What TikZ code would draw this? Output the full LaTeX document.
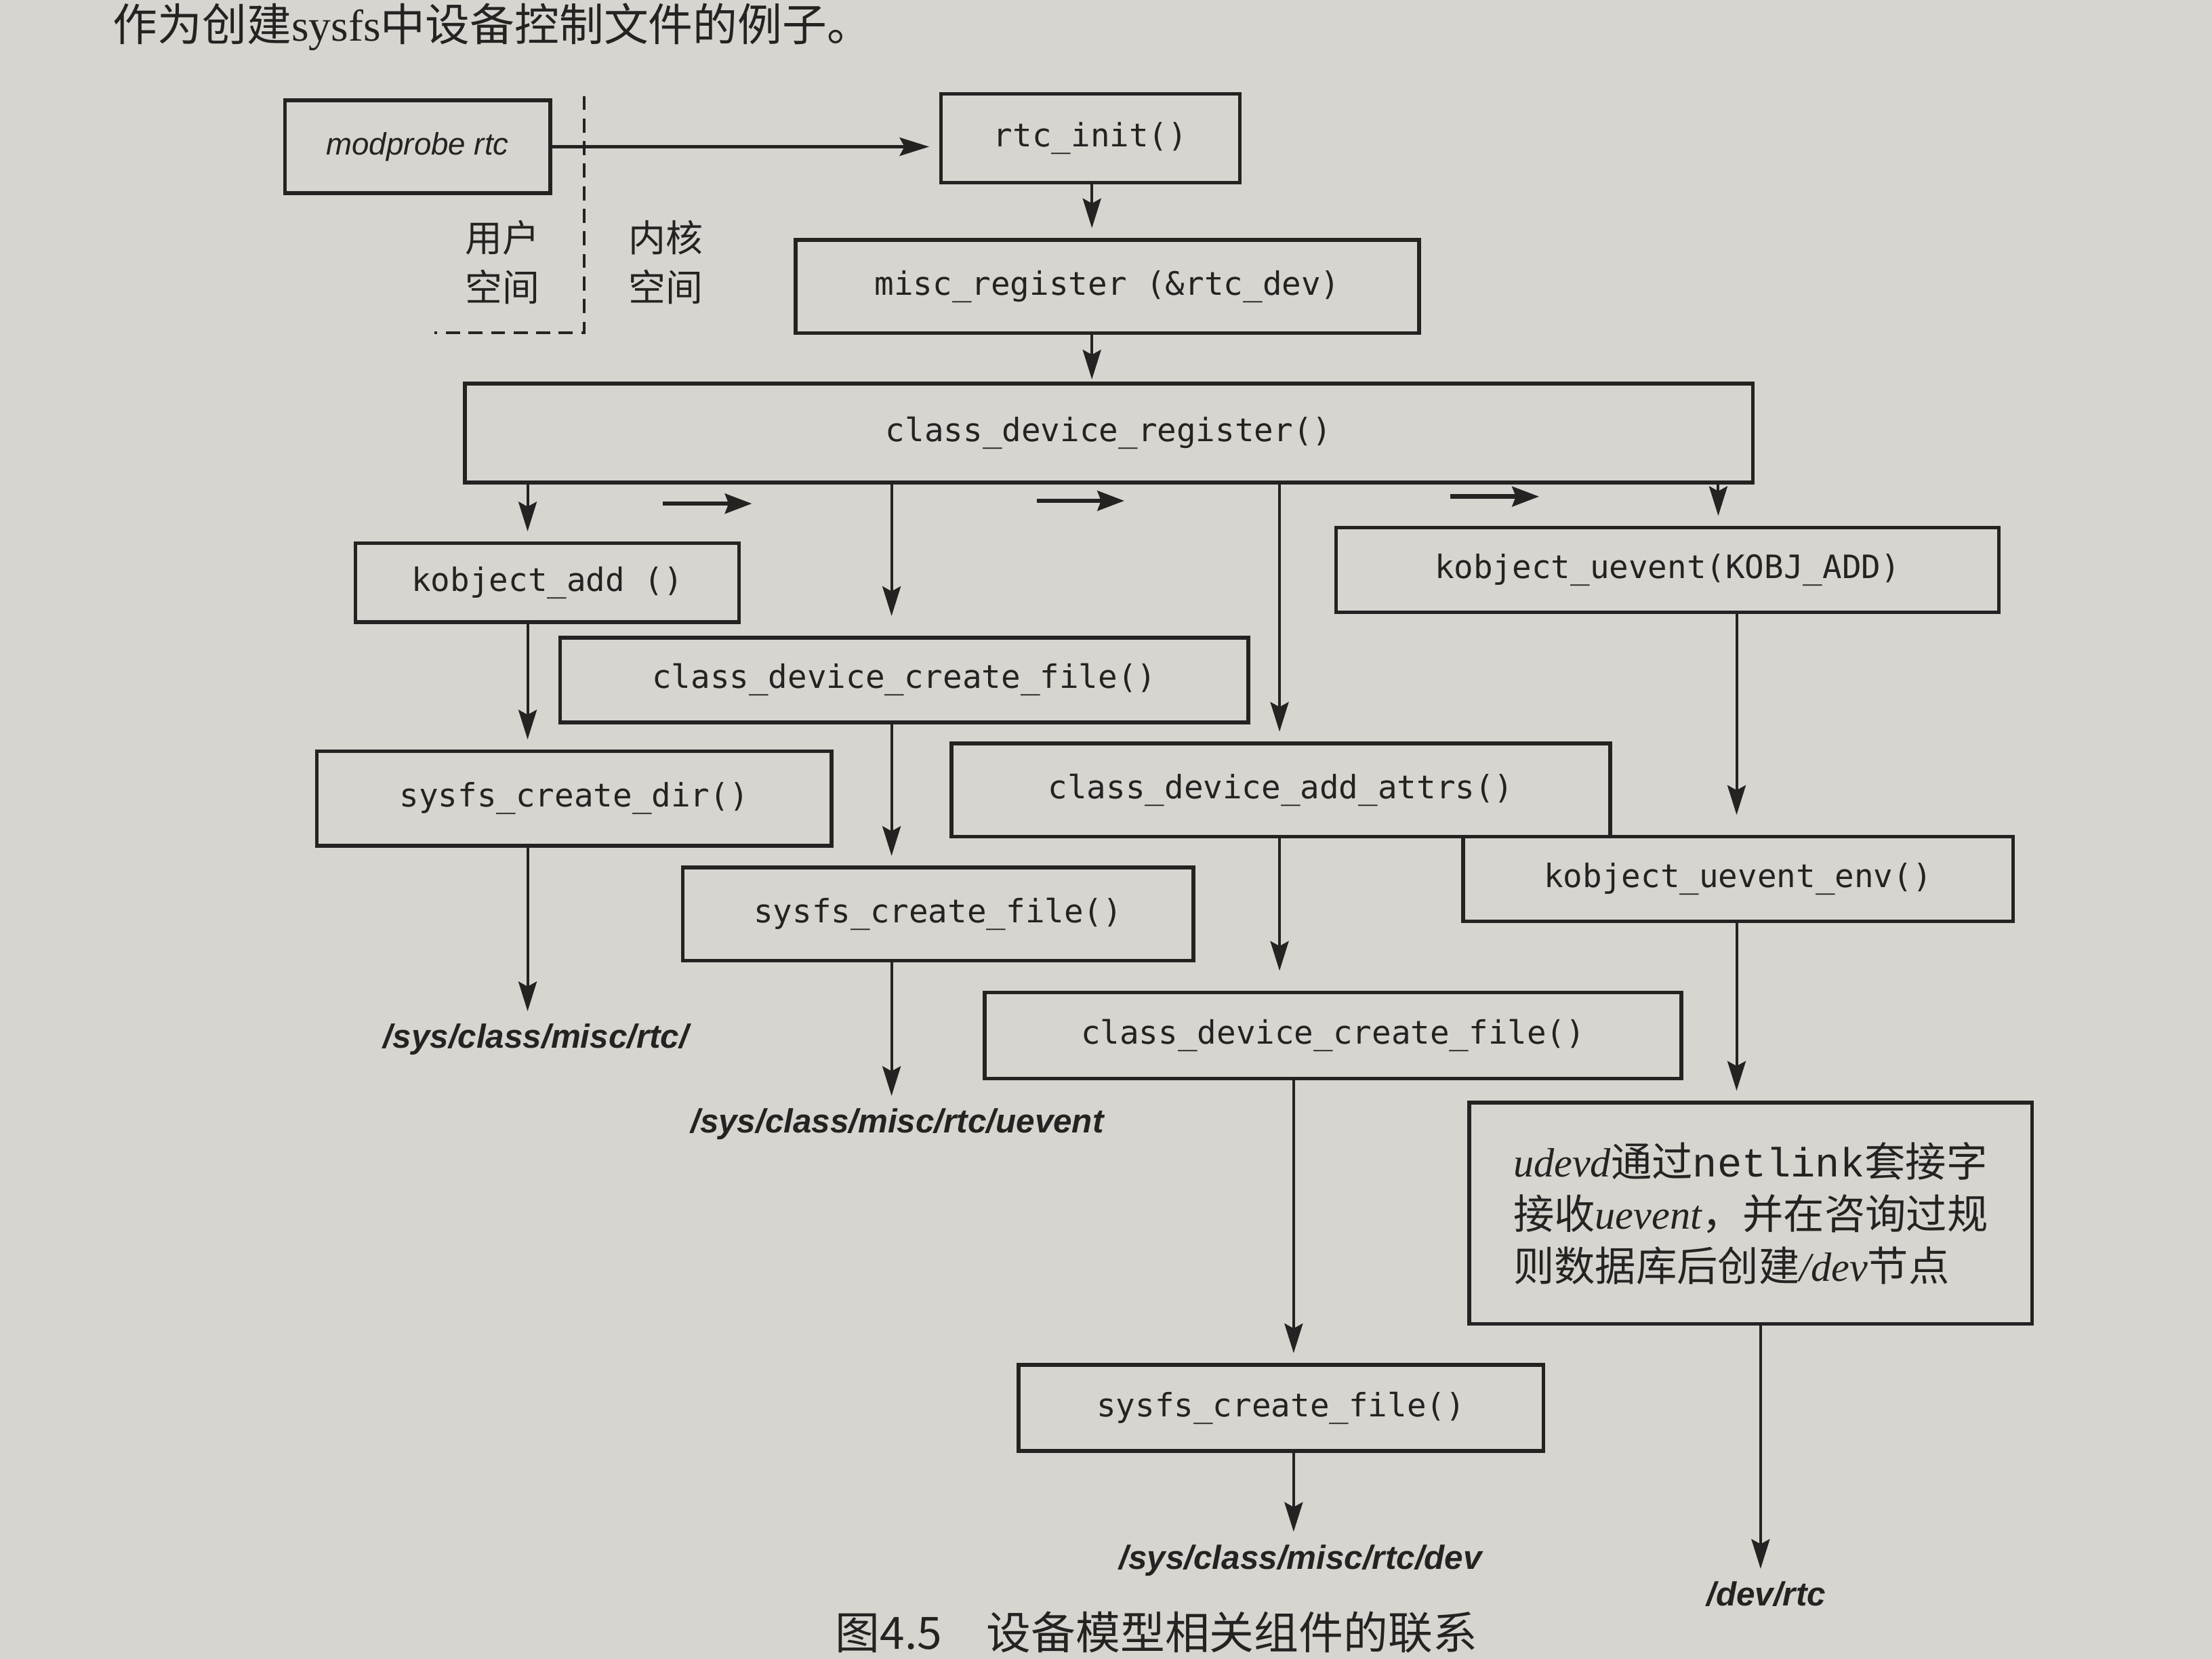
\documentclass[tikz,border=0pt]{standalone}
\usepackage{fontspec}
\setmainfont{Liberation Serif}
\setsansfont{Liberation Sans}
\setmonofont{DejaVu Sans Mono}
\newfontfamily\cjk{Noto Sans CJK SC}
\newfontfamily\netfont{Liberation Mono}
\usepackage{xcolor}
\usetikzlibrary{arrows.meta}
\definecolor{pagegray}{RGB}{215,213,208}
\definecolor{inkdark}{RGB}{38,34,34}

\begin{document}
\begin{tikzpicture}[x=0.02cm,y=-0.02cm,
    font=\ttfamily\fontsize{13}{15}\selectfont,
    fnbox/.style={draw=inkdark,line width=1.5pt,inner sep=0pt,text=inkdark},
    fnarrow/.style={draw=inkdark,line width=1.1pt,-{Stealth[length=4.2mm,width=2.6mm,inset=0.7mm]},shorten >=4pt},
    seqarrow/.style={draw=inkdark,line width=1.8pt,-{Stealth[length=3.8mm,width=2.8mm,inset=0.5mm]}},
    pathlbl/.style={text=inkdark,inner sep=1pt,font=\sffamily\bfseries\itshape\fontsize{13.5}{16}\selectfont},
    spacelbl/.style={text=inkdark,align=center,font=\cjk\fontsize{15}{20}\selectfont},
    kdash/.style={draw=inkdark,line width=1.2pt,dash pattern=on 0.2cm off 0.12cm}]
  \useasboundingbox (0,0) rectangle (1568,1176);
  \clip (0,0) rectangle (1568,1176);
  \fill[pagegray] (0,0) rectangle (1568,1176);

  \node[anchor=west,text=inkdark,font=\cjk\fontsize{18}{20}\selectfont] (intro) at (74,19)
    {作为创建{\rmfamily sysfs}中设备控制文件的例子。};

  % user space / kernel space
  \node (modprobe) [fnbox,minimum width=3.76cm,minimum height=1.32cm,
        font=\sffamily\itshape\fontsize{12.5}{15}\selectfont] at (296,104) {modprobe rtc};
  \draw[kdash] (414,68) -- (414,236) -- (308,236);
  \node[spacelbl] (userspace) at (356,186) {用户\\空间};
  \node[spacelbl] (kernelspace) at (472,186) {内核\\空间};

  % call chain
  \node (init) [fnbox,minimum width=4.24cm,minimum height=1.26cm] at (773,98) {rtc\_init()};
  \node (misc) [fnbox,minimum width=8.84cm,minimum height=1.32cm] at (785,203) {misc\_register (\&rtc\_dev)};
  \node (cdr) [fnbox,minimum width=18.26cm,minimum height=1.40cm] at (786,307) {class\_device\_register()};
  \node (kadd) [fnbox,minimum width=5.44cm,minimum height=1.12cm] at (388,413) {kobject\_add ()};
  \node (cdcfa) [fnbox,minimum width=9.76cm,minimum height=1.20cm] at (641,482) {class\_device\_create\_file()};
  \node (sdir) [fnbox,minimum width=7.30cm,minimum height=1.34cm] at (407,566) {sysfs\_create\_dir()};
  \node (scfa) [fnbox,minimum width=7.24cm,minimum height=1.32cm] at (665,648) {sysfs\_create\_file()};
  \node (attrs) [fnbox,minimum width=9.34cm,minimum height=1.32cm] at (908,560) {class\_device\_add\_attrs()};
  \node (cdcfb) [fnbox,minimum width=9.88cm,minimum height=1.22cm] at (945,734) {class\_device\_create\_file()};
  \node (scfb) [fnbox,minimum width=7.44cm,minimum height=1.22cm] at (908,998) {sysfs\_create\_file()};
  \node (kue) [fnbox,minimum width=9.40cm,minimum height=1.20cm] at (1182,404) {kobject\_uevent(KOBJ\_ADD)};
  \node (kuenv) [fnbox,minimum width=7.80cm,minimum height=1.20cm] at (1232,623) {kobject\_uevent\_env()};
  \node (udevd) [fnbox,minimum width=7.98cm,minimum height=3.14cm,align=left,
        font=\cjk\fontsize{16.5}{21}\selectfont] at (1241,860)
    {{\rmfamily\itshape udevd}通过{\netfont netlink}套接字\\
     接收{\rmfamily\itshape uevent}，并在咨询过规\\
     则数据库后创建{\rmfamily\itshape /dev}节点};

  \node[pathlbl] (sysrtc) at (380,737) {/sys/class/misc/rtc/};
  \node[pathlbl] (sysuevent) at (636,797) {/sys/class/misc/rtc/uevent};
  \node[pathlbl] (sysdev) at (922,1106) {/sys/class/misc/rtc/dev};
  \node[pathlbl] (devrtc) at (1252,1130) {/dev/rtc};

  \coordinate (cola) at (374,0);
  \coordinate (colb) at (632,0);
  \coordinate (colc) at (907,0);
  \coordinate (cold) at (917,0);
  \coordinate (cole) at (1218,0);
  \coordinate (colf) at (1231,0);
  \coordinate (colg) at (1248,0);
  \coordinate (colm) at (774,0);

  \draw[fnarrow] (modprobe.east) -- (modprobe.east -| init.west);
  \draw[fnarrow] (init.south -| colm) -- (misc.north -| colm);
  \draw[fnarrow,shorten >=1pt] (misc.south -| colm) -- (cdr.north -| colm);

  \draw[fnarrow] (cdr.south -| cola) -- (kadd.north -| cola);
  \draw[fnarrow,shorten >=8pt] (cdr.south -| colb) -- (cdcfa.north -| colb);
  \draw[fnarrow] (cdr.south -| colc) -- (attrs.north -| colc);
  \draw[fnarrow] (cdr.south -| cole) -- (kue.north -| cole);

  \draw[fnarrow] (kadd.south -| cola) -- (sdir.north -| cola);
  \draw[fnarrow] (sdir.south -| cola) -- (sysrtc.north -| cola);
  \draw[fnarrow] (cdcfa.south -| colb) -- (scfa.north -| colb);
  \draw[fnarrow] (scfa.south -| colb) -- (sysuevent.north -| colb);
  \draw[fnarrow,shorten >=8pt] (attrs.south -| colc) -- (cdcfb.north -| colc);
  \draw[fnarrow] (cdcfb.south -| cold) -- (scfb.north -| cold);
  \draw[fnarrow] (scfb.south -| cold) -- (sysdev.north -| cold);
  \draw[fnarrow,shorten >=8pt] (kue.south -| colf) -- (kuenv.north -| colf);
  \draw[fnarrow] (kuenv.south -| colf) -- (udevd.north -| colf);
  \draw[fnarrow] (udevd.south -| colg) -- (devrtc.north -| colg);

  % order of the calls
  \draw[seqarrow] (470,357) -- (533,357);
  \draw[seqarrow] (735,355) -- (797,355);
  \draw[seqarrow] (1028,352) -- (1091,352);

  \node[anchor=west,text=inkdark,font=\cjk\fontsize{18}{20}\selectfont] (caption) at (586,1157)
    {图4.5\quad 设备模型相关组件的联系};
\end{tikzpicture}
\end{document}
